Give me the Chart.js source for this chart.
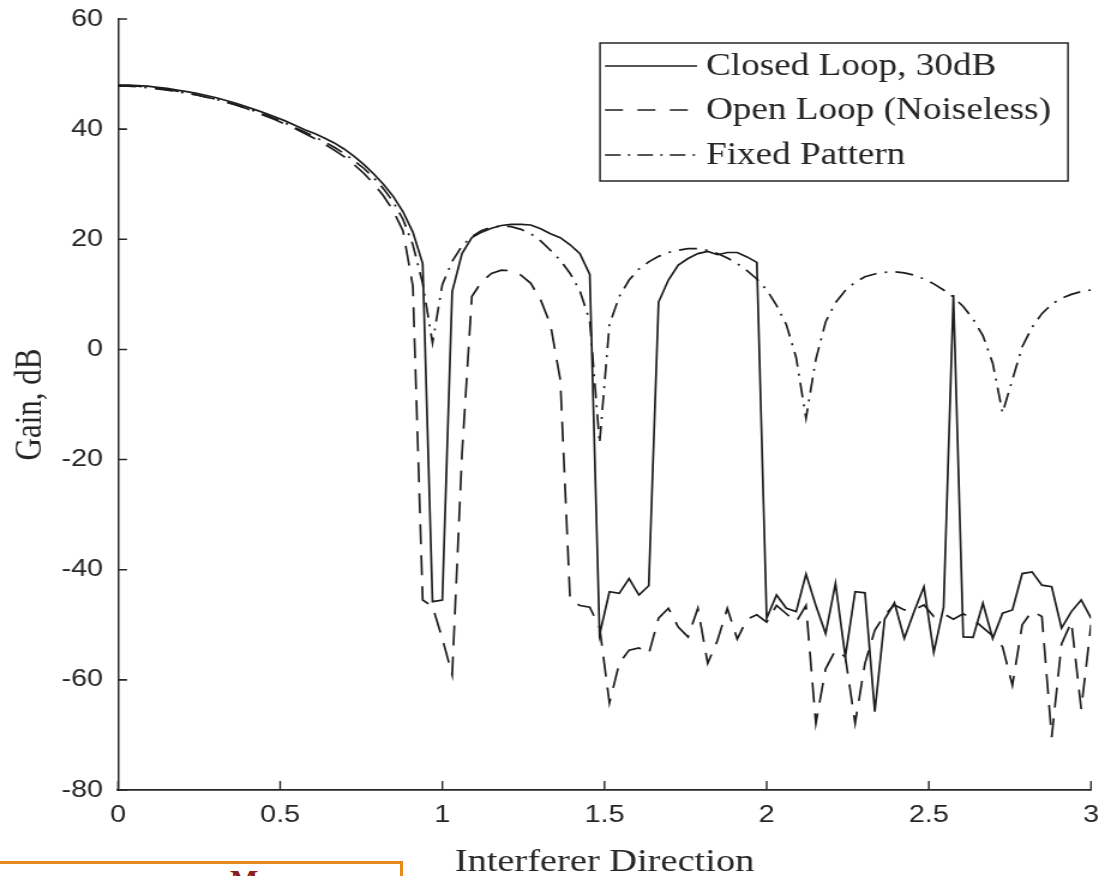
<!DOCTYPE html>
<html><head><meta charset="utf-8">
<script src="https://cdn.jsdelivr.net/npm/chart.js@4.4.1/dist/chart.umd.min.js"></script>
<style>
html,body{margin:0;padding:0;background:#fff;overflow:hidden;width:1099px;height:876px;}
#wrap{position:absolute;left:0;top:0;width:916px;height:876px;transform:scaleX(1.19978);transform-origin:0 0;}
#c{display:block;}
#note{position:absolute;left:-3px;top:861px;width:406px;height:40px;border:3px solid #E8891E;box-sizing:border-box;overflow:hidden;background:#fff;}
#note span{position:absolute;left:230px;top:-1px;font:bold 30px 'Liberation Serif',serif;color:#8B1C1C;}
</style></head><body>
<div id="wrap"><canvas id="c" width="916" height="876"></canvas></div>
<div id="note"><span>M</span></div>
<script>
// ---- data ----
const xs = Array.from({length: 100}, (_, i) => i * 3 / 99); // sample grid 0..3
const closedLoop = [
 48.0,48.0,47.9,47.8,47.6,47.4,47.1,46.8,46.5,46.1,
 45.7,45.2,44.7,44.1,43.5,42.9,42.2,41.5,40.7,39.9,
 39.2,38.4,37.5,36.4,35.1,33.6,31.9,30.0,27.8,25.0,
 21.3,15.6,-45.8,-45.5,10.5,17.4,20.3,21.3,22.0,22.5,
 22.7,22.7,22.6,21.9,21.0,20.3,19.0,17.4,13.6,-51.8,
 -44.0,-44.3,-41.6,-44.6,-42.9,8.6,12.6,15.3,16.5,17.4,
 17.8,17.2,17.6,17.6,16.8,15.8,-48.8,-44.6,-47.0,-47.6,
 -40.8,-46.5,-51.6,-42.5,-55.8,-44.0,-44.2,-65.8,-49.0,-46.0,
 -52.5,-47.6,-43.1,-55.0,-46.8,9.9,-52.2,-52.3,-46.1,-52.5,
 -47.9,-47.3,-40.7,-40.4,-42.8,-43.1,-50.6,-47.6,-45.5,-48.8
];
const openLoop = [
 47.9,47.9,47.8,47.6,47.4,47.2,46.9,46.6,46.2,45.8,
 45.4,44.9,44.4,43.8,43.1,42.4,41.7,40.9,40.1,39.2,
 38.3,37.3,36.2,35.0,33.6,32.0,30.1,27.9,25.2,21.5,
 11.5,-45.5,-46.7,-52.5,-59.1,-19.0,9.6,12.3,13.8,14.4,
 14.3,13.5,12.0,9.0,4.5,-5.5,-45.5,-46.5,-46.8,-50.5,
 -64.2,-57.0,-54.6,-54.2,-55.3,-48.8,-47.0,-50.4,-52.2,-47.0,
 -57.0,-52.8,-47.0,-52.6,-49.0,-48.2,-49.5,-46.5,-48.0,-49.5,
 -46.5,-67.9,-58.0,-54.6,-55.8,-67.9,-57.0,-51.0,-48.2,-46.4,
 -47.3,-47.3,-46.4,-48.5,-48.0,-49.0,-48.0,-49.0,-50.5,-52.0,
 -54.0,-61.0,-50.0,-47.5,-48.5,-70.4,-53.5,-49.5,-65.3,-50.0
];
const fixedPattern = [
 47.8,47.8,47.7,47.5,47.3,47.1,46.8,46.5,46.2,45.8,
 45.4,44.9,44.4,43.8,43.2,42.6,41.9,41.1,40.3,39.5,
 38.6,37.7,36.7,35.6,34.3,32.9,31.2,29.2,26.8,23.6,
 19.0,12.0,1.2,11.8,16.0,18.8,20.5,21.6,22.2,22.4,
 22.3,21.8,21.0,19.7,18.0,16.2,13.8,10.6,5.2,-17.0,
 4.5,9.6,12.6,14.6,15.9,16.9,17.6,18.0,18.3,18.3,
 18.0,17.4,16.6,15.6,14.3,12.8,10.8,8.0,4.5,-1.5,
 -12.5,-1.8,5.0,8.5,10.7,12.2,13.2,13.7,14.0,14.1,
 13.9,13.5,12.8,11.9,10.8,9.5,7.8,5.5,2.5,-2.5,
 -11.5,-5.5,0.5,4.0,6.5,8.2,9.3,10.0,10.5,10.8
];
const seriesLabels = ['Closed Loop, 30dB', 'Open Loop (Noiseless)', 'Fixed Pattern'];
const xTickValues = [0, 0.5, 1, 1.5, 2, 2.5, 3];
const yTickValues = [-80, -60, -40, -20, 0, 20, 40, 60];
const xTitle = 'Interferer Direction';
const yTitle = 'Gain, dB';

// ---- drawing ----
const S = 1099 / 916;          // horizontal stretch of the canvas
const INK = '#262626';
const LINE = '#1c1c1c';
const pts = vals => vals.map((v, i) => ({x: xs[i], y: v}));

const legendDash = [[], [15, 12], [13, 6, 2, 6]];

const inwardTicks = {
  id: 'inwardTicks',
  afterDraw(chart) {
    const {ctx, chartArea: a, scales: {x, y}} = chart;
    ctx.save();
    ctx.strokeStyle = INK;
    ctx.lineWidth = 1.6;
    ctx.beginPath();
    y.ticks.forEach(t => { const py = y.getPixelForValue(t.value); ctx.moveTo(a.left, py); ctx.lineTo(a.left + 9 / S, py); });
    ctx.stroke();
    ctx.lineWidth = 1.4;
    ctx.beginPath();
    x.ticks.forEach(t => { const px = x.getPixelForValue(t.value); ctx.moveTo(px, a.bottom); ctx.lineTo(px, a.bottom - 9); });
    ctx.stroke();
    ctx.restore();
  }
};

const boxLegend = {
  id: 'boxLegend',
  afterDraw(chart) {
    const {ctx} = chart;
    const bx = 600 / S, bw = (1068 - 600) / S, by = 43, bh = 138;
    ctx.save();
    ctx.fillStyle = '#fff';
    ctx.fillRect(bx, by, bw, bh);
    ctx.strokeStyle = INK;
    ctx.lineWidth = 1.5;
    ctx.strokeRect(bx, by, bw, bh);
    const rows = [66, 110, 155];
    chart.data.datasets.forEach((ds, i) => {
      ctx.beginPath();
      ctx.setLineDash(legendDash[i]);
      ctx.strokeStyle = ds.borderColor;
      ctx.lineWidth = ds.borderWidth;
      ctx.moveTo(605 / S, rows[i]);
      ctx.lineTo(697 / S, rows[i]);
      ctx.stroke();
      ctx.setLineDash([]);
      ctx.fillStyle = INK;
      ctx.font = "31px 'Liberation Serif'";
      ctx.textBaseline = 'middle';
      ctx.textAlign = 'left';
      ctx.fillText(ds.label, 706 / S, rows[i] + 1);
    });
    ctx.restore();
  }
};

const styles = [
  {borderDash: []},
  {borderDash: [20, 11]},
  {borderDash: [15, 7, 2, 7]}
];
const seriesValues = [closedLoop, openLoop, fixedPattern];

new Chart(document.getElementById('c'), {
  type: 'line',
  data: {
    datasets: seriesValues.map((vals, i) => ({
      label: seriesLabels[i],
      data: pts(vals),
      borderColor: LINE,
      borderWidth: 1.7,
      borderDash: styles[i].borderDash,
      pointRadius: 0,
      tension: 0,
      fill: false
    }))
  },
  options: {
    responsive: false,
    devicePixelRatio: 1,
    animation: false,
    events: [],
    layout: {padding: {left: 0, right: 916 - 1091 / S, top: 19, bottom: 0}},
    plugins: {legend: {display: false}, tooltip: {enabled: false}},
    scales: {
      x: {
        type: 'linear', min: 0, max: 3,
        afterBuildTicks: s => { s.ticks = xTickValues.map(v => ({value: v})); },
        afterFit: s => { s.height = 876 - 790; s.paddingLeft = 0; s.paddingRight = 0; },
        grid: {display: false, drawTicks: false},
        border: {display: true, color: INK, width: 1.8},
        ticks: {padding: 11, color: INK, font: {family: "'Liberation Sans'", size: 24}, maxRotation: 0,
                callback: v => String(v)},
        title: {display: true, text: xTitle, color: INK, font: {family: "'Liberation Serif'", size: 32, lineHeight: 1},
                padding: {top: 0, bottom: -3}}
      },
      y: {
        type: 'linear', min: -80, max: 60,
        afterBuildTicks: s => { s.ticks = yTickValues.map(v => ({value: v})); },
        afterFit: s => { s.width = 118 / S; s.paddingTop = 0; s.paddingBottom = 0; },
        grid: {display: false, drawTicks: false},
        border: {display: true, color: INK, width: 1.5},
        ticks: {padding: 12.5, color: INK, font: {family: "'Liberation Sans'", size: 24},
                callback: v => String(v)},
        title: {display: true, text: yTitle, color: INK, font: {family: "'Liberation Serif'", size: 31, lineHeight: 1},
                padding: {top: 10, bottom: 0}}
      }
    }
  },
  plugins: [inwardTicks, boxLegend]
});
</script>
</body></html>
